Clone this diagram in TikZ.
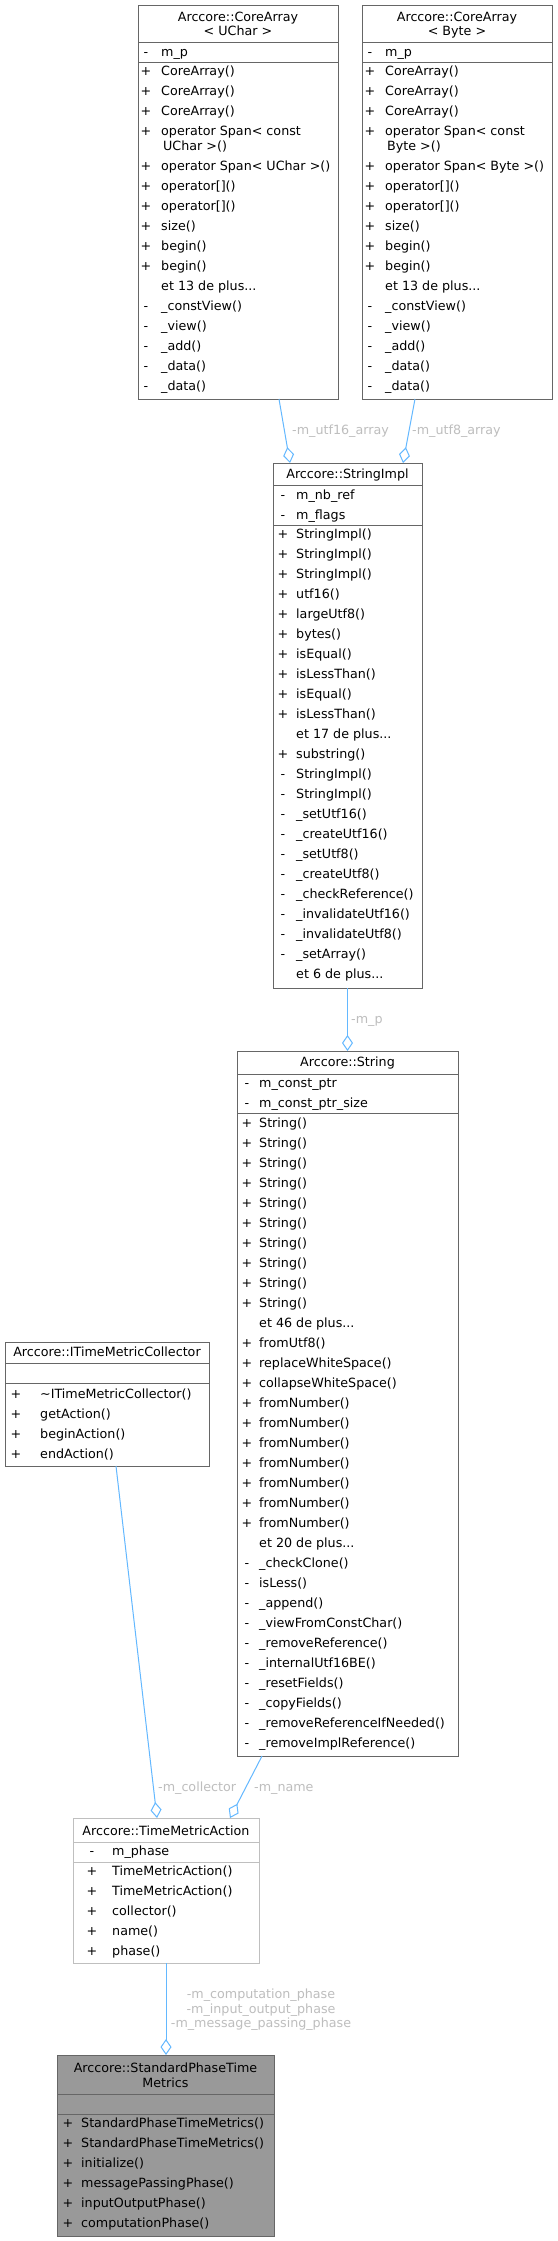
\documentclass[tikz,border=0pt]{standalone}
\usepackage{fontspec}
\setmainfont{DejaVu Sans}
\usetikzlibrary{arrows.meta}
\definecolor{boxgray}{HTML}{666666}
\definecolor{lightbox}{HTML}{BFBFBF}
\definecolor{edgeblue}{HTML}{63B8FF}
\definecolor{lblgray}{HTML}{BEBEBE}
\definecolor{fillgray}{HTML}{999999}
\newcommand{\fsz}{\fontsize{12.7}{15}\selectfont}
\newcommand{\etplus}[1]{et #1 de plus...}
\newcommand{\members}[5]{%
  \foreach \ms/\mt [count=\mi from 0] in {#5} {
    \node[symb] (#1s\mi) at (#2,#4+20*\mi+4.3) {\ms};
    \node[txt] (#1t\mi) at (#3,#4+20*\mi+4.3) {\mt};
  }}
\tikzset{
  symb/.style={anchor=base, inner sep=0pt, font=\fsz},
  txt/.style={anchor=base west, inner sep=0pt, font=\fsz},
  ttl/.style={anchor=base, inner sep=0pt, font=\fsz},
  lbl/.style={anchor=base west, inner sep=0pt, font=\fsz, text=lblgray},
  box/.style={rectangle, draw=boxgray, line width=1pt, fill=white, inner sep=0pt, outer sep=0pt, anchor=north west},
  sep/.style={draw=boxgray, line width=1pt},
  edge/.style={draw=edgeblue, line width=1pt, -{Diamond[length=16pt,width=11pt,fill=white]}}
}
\begin{document}
\begin{tikzpicture}[x=1pt,y=-1pt]
\fill[white] (0,0) rectangle (557,2241);
\useasboundingbox (0,0) rectangle (557,2241);

% CoreArray<UChar>
\node[box, minimum width=200pt, minimum height=394pt] (cau) at (138,5) {};
\node[ttl] (cauT1) at (238,17.5+4.3) {Arccore::CoreArray};
\node[ttl] (cauT2) at (238,31.5+4.3) {< UChar >};
\draw[sep] (138,42) -- (338,42);
\draw[sep] (138,62) -- (338,62);
\members{caua}{146}{161}{52}{-/m\_p}
\members{cauc}{146}{161}{71}{+/CoreArray(), +/CoreArray(), +/CoreArray(), +/operator Span< const}
\node[txt] (cauw) at (163,146+4.3) {UChar >()};
\members{caud}{146}{161}{166}{+/operator Span< UChar >(), +/operator[](), +/operator[](), +/size(), +/begin(), +/begin(), {}/\etplus{13}, -/\_constView(), -/\_view(), -/\_add(), -/\_data(), -/\_data()}

% CoreArray<Byte>
\node[box, minimum width=190pt, minimum height=394pt] (cab) at (362,5) {};
\node[ttl] (cabT1) at (457,17.5+4.3) {Arccore::CoreArray};
\node[ttl] (cabT2) at (457,31.5+4.3) {< Byte >};
\draw[sep] (362,42) -- (552,42);
\draw[sep] (362,62) -- (552,62);
\members{caba}{370}{385}{52}{-/m\_p}
\members{cabc}{370}{385}{71}{+/CoreArray(), +/CoreArray(), +/CoreArray(), +/operator Span< const}
\node[txt] (cabw) at (387,146+4.3) {Byte >()};
\members{cabd}{370}{385}{166}{+/operator Span< Byte >(), +/operator[](), +/operator[](), +/size(), +/begin(), +/begin(), {}/\etplus{13}, -/\_constView(), -/\_view(), -/\_add(), -/\_data(), -/\_data()}

% StringImpl
\node[box, minimum width=149pt, minimum height=525pt] (simpl) at (273,463) {};
\node[ttl] (simplT) at (347.5,474+4.3) {Arccore::StringImpl};
\draw[sep] (273,485) -- (422,485);
\draw[sep] (273,525) -- (422,525);
\members{sia}{283}{296}{495}{-/m\_nb\_ref, -/m\_flags}
\members{sim}{283}{296}{534}{+/StringImpl(), +/StringImpl(), +/StringImpl(), +/utf16(), +/largeUtf8(), +/bytes(), +/isEqual(), +/isLessThan(), +/isEqual(), +/isLessThan(), {}/\etplus{17}, +/substring(), -/StringImpl(), -/StringImpl(), -/\_setUtf16(), -/\_createUtf16(), -/\_setUtf8(), -/\_createUtf8(), -/\_checkReference(), -/\_invalidateUtf16(), -/\_invalidateUtf8(), -/\_setArray(), {}/\etplus{6}}

% String
\node[box, minimum width=221pt, minimum height=705pt] (str) at (237,1051) {};
\node[ttl] (strT) at (347.5,1062+4.3) {Arccore::String};
\draw[sep] (237,1074) -- (458,1074);
\draw[sep] (237,1113) -- (458,1113);
\members{sta}{247}{259}{1083}{-/m\_const\_ptr, -/m\_const\_ptr\_size}
\members{stm}{247}{259}{1123}{+/String(), +/String(), +/String(), +/String(), +/String(), +/String(), +/String(), +/String(), +/String(), +/String(), {}/\etplus{46}, +/fromUtf8(), +/replaceWhiteSpace(), +/collapseWhiteSpace(), +/fromNumber(), +/fromNumber(), +/fromNumber(), +/fromNumber(), +/fromNumber(), +/fromNumber(), +/fromNumber(), {}/\etplus{20}, -/\_checkClone(), -/isLess(), -/\_append(), -/\_viewFromConstChar(), -/\_removeReference(), -/\_internalUtf16BE(), -/\_resetFields(), -/\_copyFields(), -/\_removeReferenceIfNeeded(), -/\_removeImplReference()}

% ITimeMetricCollector
\node[box, minimum width=204pt, minimum height=124pt] (itmc) at (5,1342) {};
\node[ttl] (itmcT) at (107,1352.5+4.3) {Arccore::ITimeMetricCollector};
\draw[sep] (5,1363) -- (209,1363);
\draw[sep] (5,1383) -- (209,1383);
\members{itm}{16}{40}{1394}{+/\textasciitilde ITimeMetricCollector(), +/getAction(), +/beginAction(), +/endAction()}

% TimeMetricAction
\node[box, draw=lightbox, minimum width=186pt, minimum height=145pt] (tma) at (73,1818) {};
\node[ttl] (tmaT) at (166,1831+4.3) {Arccore::TimeMetricAction};
\draw[sep, draw=lightbox] (73,1842) -- (259,1842);
\draw[sep, draw=lightbox] (73,1862) -- (259,1862);
\members{tmaa}{92}{112}{1851}{-/m\_phase}
\members{tmam}{92}{112}{1871}{+/TimeMetricAction(), +/TimeMetricAction(), +/collector(), +/name(), +/phase()}

% StandardPhaseTimeMetrics
\node[box, fill=fillgray, minimum width=217pt, minimum height=181pt] (sptm) at (57,2055) {};
\node[ttl] (sptmT1) at (165.5,2068+4.3) {Arccore::StandardPhaseTime};
\node[ttl] (sptmT2) at (165.5,2083+4.3) {Metrics};
\draw[sep] (57,2094) -- (274,2094);
\draw[sep] (57,2114) -- (274,2114);
\members{spm}{68}{81}{2123}{+/StandardPhaseTimeMetrics(), +/StandardPhaseTimeMetrics(), +/initialize(), +/messagePassingPhase(), +/inputOutputPhase(), +/computationPhase()}

% connectors
\draw[edge] ([xshift=41pt]cau.south) -- ([xshift=-57.5pt]simpl.north);
\node[lbl] (l1) at (292,430+4.3) {-m\_utf16\_array};
\draw[edge] ([xshift=-42pt]cab.south) -- ([xshift=55.5pt]simpl.north);
\node[lbl] (l2) at (412,430+4.3) {-m\_utf8\_array};
\draw[edge] (simpl.south) -- (str.north);
\node[lbl] (l3) at (351,1019+4.3) {-m\_p};
\draw[edge] ([xshift=9pt]itmc.south) -- ([xshift=-9pt]tma.north);
\node[lbl] (l4) at (158,1787+4.3) {-m\_collector};
\draw[edge] ([xshift=-85.5pt]str.south) -- ([xshift=64pt]tma.north);
\node[lbl] (l5) at (254,1787+4.3) {-m\_name};
\draw[edge] (tma.south) -- (tma.south |- sptm.north);
\node[lbl, anchor=base] (l6a) at (261,1994+4.3) {-m\_computation\_phase};
\node[lbl, anchor=base] (l6b) at (261,2009+4.3) {-m\_input\_output\_phase};
\node[lbl, anchor=base] (l6c) at (261,2023+4.3) {-m\_message\_passing\_phase};
\end{tikzpicture}
\end{document}
